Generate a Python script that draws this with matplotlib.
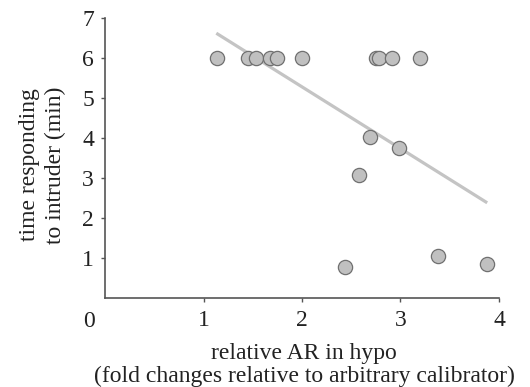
import matplotlib
matplotlib.use("Agg")
import matplotlib.pyplot as plt

plt.rcParams['font.family'] = ['Liberation Serif', 'DejaVu Serif']

# data
ar_hypo = [1.14, 1.45, 1.53, 1.68, 1.75, 2.00, 2.75, 2.78, 2.91, 3.20,
           2.69, 2.98, 2.58, 2.44, 3.38, 3.88]
time_min = [6.0, 6.0, 6.0, 6.0, 6.0, 6.0, 6.0, 6.0, 6.0, 6.0,
            4.02, 3.74, 3.07, 0.77, 1.05, 0.85]
fit_x = [1.13, 3.88]
fit_y = [6.62, 2.38]
xticks = [1, 2, 3, 4]
yticks = [1, 2, 3, 4, 5, 6, 7]
xlabel_lines = ['relative AR in hypo', '(fold changes relative to arbitrary calibrator)']
ylabel_lines = ['time responding', 'to intruder (min)']

W, H = 530, 387
FS = 17
TXT = '#222222'
fig = plt.figure(figsize=(W/100, H/100), dpi=100)
ax = fig.add_axes([105/W, 1-298/H, (499-105)/W, (298-18)/H])

ax.plot(fit_x, fit_y, color='#c4c4c4', lw=2.3, solid_capstyle='butt', zorder=2)
ax.scatter(ar_hypo, time_min, s=105, facecolor='#c0c0c0', edgecolor='#707070',
           linewidth=0.9, zorder=3)

ax.set_xlim(0, 4)
ax.set_ylim(0, 7)
ax.set_xticks(xticks)
ax.set_yticks(yticks)
for s in ['top', 'right']:
    ax.spines[s].set_visible(False)
for s in ['left', 'bottom']:
    ax.spines[s].set_color('#555555')
    ax.spines[s].set_linewidth(1.2)
ax.tick_params(axis='both', colors='#555555', length=3, width=1.0,
               labelsize=FS, labelcolor=TXT)
ax.tick_params(axis='x', pad=6)
ax.tick_params(axis='y', pad=5)

# origin label
fig.text(89/W, 1-311/H, '0', ha='center', va='top', fontsize=FS, color=TXT)

# x label (two lines)
fig.text(304/W, 1-359/H, xlabel_lines[0], ha='center', va='baseline',
         fontsize=FS, color=TXT)
fig.text(304/W, 1-382/H, xlabel_lines[1], ha='center', va='baseline',
         fontsize=FS, color=TXT)
# y label (two lines)
yc = 1-165/H
fig.text(30/W, yc, ylabel_lines[0], rotation=90, ha='center', va='center',
         fontsize=FS, color=TXT)
fig.text(55/W, yc, ylabel_lines[1], rotation=90, ha='center', va='center',
         fontsize=FS, color=TXT)

fig.savefig('out.png', dpi=100)
